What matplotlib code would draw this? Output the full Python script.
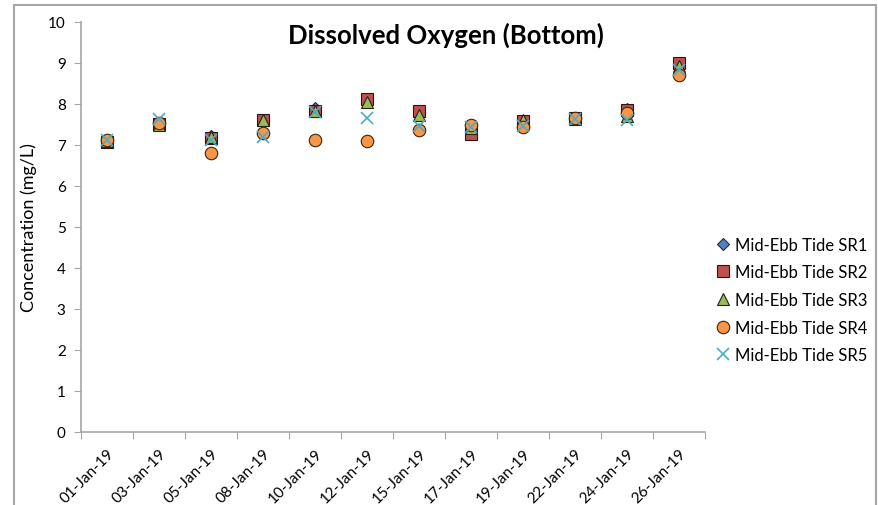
import numpy as np
import matplotlib.pyplot as plt
from matplotlib.patches import Rectangle

# datas de amostragem (eixo categórico)
dates = ["01-Jan-19", "03-Jan-19", "05-Jan-19", "08-Jan-19", "10-Jan-19", "12-Jan-19",
         "15-Jan-19", "17-Jan-19", "19-Jan-19", "22-Jan-19", "24-Jan-19", "26-Jan-19"]

# oxigênio dissolvido (mg/L) por estação
sr1 = [7.10, 7.50, 7.22, 7.60, 7.90, 8.10, 7.80, 7.40, 7.57, 7.64, 7.88, 8.95]
sr2 = [7.08, 7.52, 7.17, 7.62, 7.82, 8.12, 7.82, 7.27, 7.58, 7.65, 7.86, 9.00]
sr3 = [7.10, 7.50, 7.20, 7.60, 7.83, 8.04, 7.74, 7.41, 7.62, 7.64, 7.70, 8.93]
sr4 = [7.12, 7.54, 6.80, 7.29, 7.11, 7.09, 7.37, 7.50, 7.44, 7.65, 7.78, 8.71]
sr5 = [7.13, 7.63, 7.13, 7.20, 7.80, 7.66, 7.47, 7.45, 7.47, 7.63, 7.62, 8.84]

labels = ["Mid-Ebb Tide SR1", "Mid-Ebb Tide SR2", "Mid-Ebb Tide SR3",
          "Mid-Ebb Tide SR4", "Mid-Ebb Tide SR5"]

plt.rcParams['font.family'] = ['Lato', 'DejaVu Sans']

fig = plt.figure(figsize=(8.79, 5.06), dpi=100)
ax = fig.add_axes([81 / 879, 1 - 433 / 506, 624 / 879, 410 / 506])

# moldura do gráfico (estilo Excel)
fig.patches.append(Rectangle((14 / 879, -0.05), 862 / 879, 1 - 6 / 506 + 0.05,
                             transform=fig.transFigure, fill=False,
                             edgecolor='#a6a6a6', linewidth=1.5))

x = np.arange(len(dates))
ax.plot(x, sr1, linestyle='none', marker='D', markersize=6, markerfacecolor='#4F81BD',
        markeredgecolor='#1f2f45', markeredgewidth=0.8, label=labels[0], zorder=3)
ax.plot(x, sr2, linestyle='none', marker='s', markersize=9, markerfacecolor='#C0504D',
        markeredgecolor='#2a1515', markeredgewidth=0.8, label=labels[1], zorder=3)
ax.plot(x, sr3, linestyle='none', marker='^', markersize=9, markerfacecolor='#9BBB59',
        markeredgecolor='#1e2612', markeredgewidth=0.8, label=labels[2], zorder=3)
ax.plot(x, sr4, linestyle='none', marker='o', markersize=9, markerfacecolor='#F79646',
        markeredgecolor='#3a2410', markeredgewidth=0.8, label=labels[3], zorder=3)
ax.plot(x, sr5, linestyle='none', marker='x', markersize=8, markeredgecolor='#4BACC6',
        markeredgewidth=1.2, label=labels[4], zorder=3)

ax.set_xlim(-0.5, len(dates) - 0.5)
ax.set_ylim(0, 10)
ax.set_yticks(np.arange(0, 11, 1))

# marcas entre categorias, rótulos no centro
ax.set_xticks(np.arange(-0.5, len(dates), 1))
ax.set_xticklabels([])
ax.set_xticks(x, minor=True)
ax.set_xticklabels(dates, minor=True, rotation=45, ha='right', rotation_mode='anchor')
ax.tick_params(axis='x', which='minor', length=0, pad=10, labelsize=11)
ax.tick_params(axis='x', which='major', length=5, color='#a6a6a6', direction='out')
ax.tick_params(axis='y', length=5, color='#a6a6a6', direction='out', labelsize=11, pad=6)

for side in ['top', 'right']:
    ax.spines[side].set_visible(False)
for side in ['left', 'bottom']:
    ax.spines[side].set_color('#a6a6a6')
    ax.spines[side].set_linewidth(1.2)

ax.set_ylabel("Concentration (mg/L)", fontsize=13, labelpad=8)
fig.text(446 / 879, 1 - 35 / 506, "Dissolved Oxygen (Bottom)", fontsize=18.5,
         fontweight='bold', ha='center', va='center')

ax.legend(loc='center left', bbox_to_anchor=(0.989, 0.322), frameon=False, fontsize=12,
          handletextpad=0.1, labelspacing=0.7, handlelength=1.2, borderaxespad=0.5)

fig.savefig("out.png", dpi=100)
